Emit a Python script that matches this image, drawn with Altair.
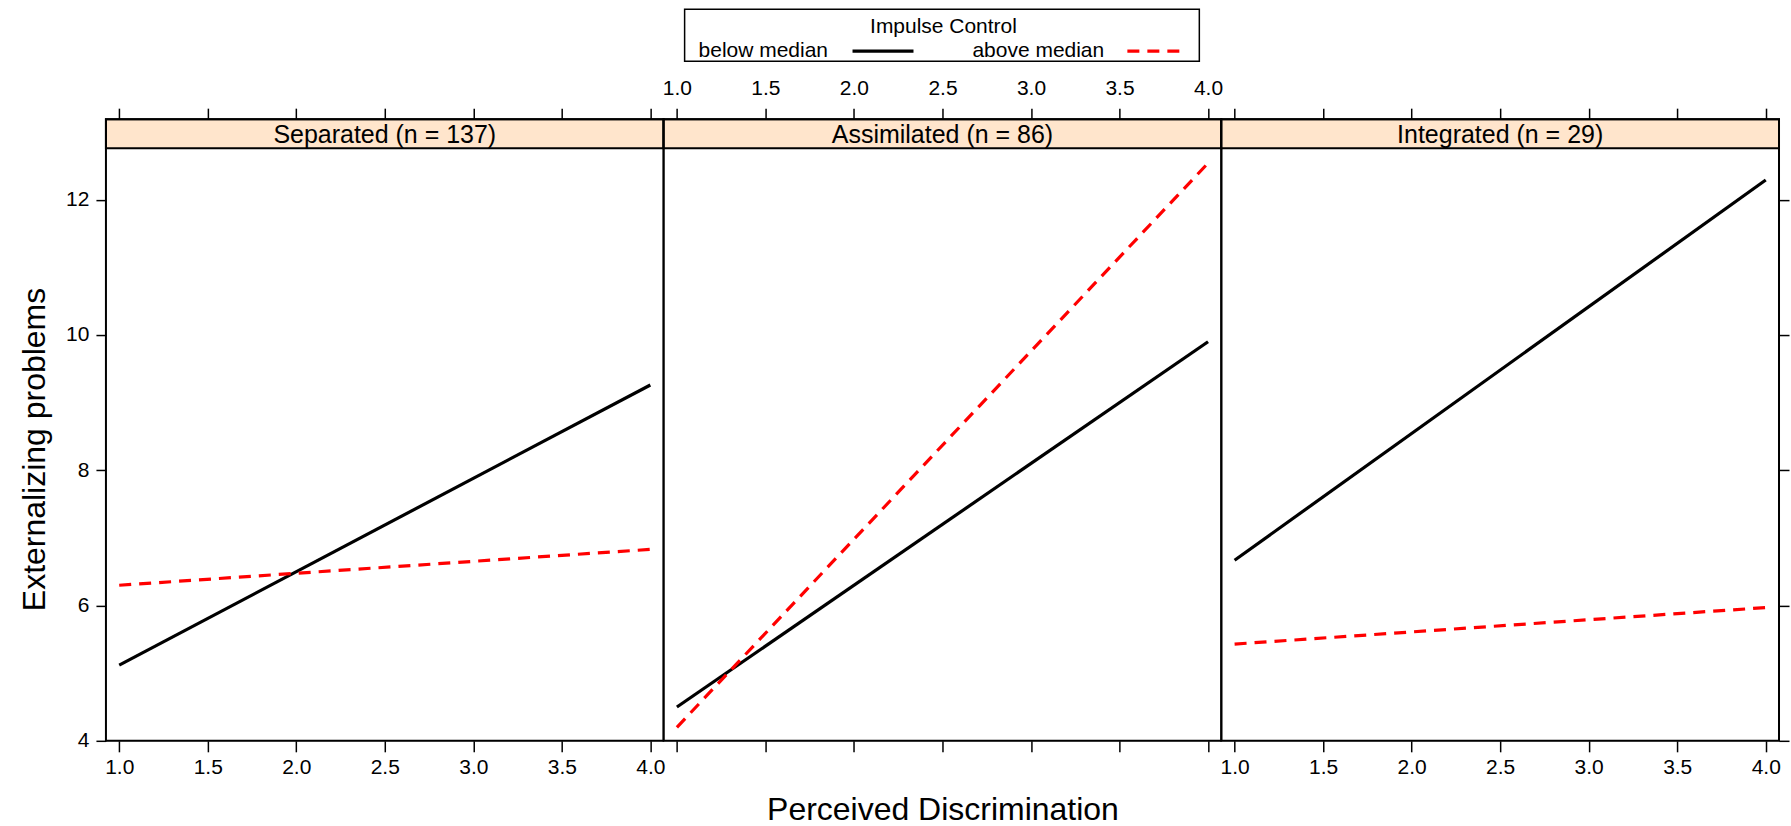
import altair as alt
import pandas as pd

# ---- data ----
panel_names = ["Separated (n = 137)", "Assimilated (n = 86)", "Integrated (n = 29)"]
group_names = ["below median", "above median"]
legend_title = "Impulse Control"
x_title = "Perceived Discrimination"
y_title = "Externalizing problems"

x_points = [1.0, 4.0]
below_start = [5.12, 4.50, 6.67]
below_end = [9.26, 9.90, 12.29]
above_start = [6.30, 4.20, 5.43]
above_end = [6.83, 12.54, 5.97]

x_tick_values = [1.0, 1.5, 2.0, 2.5, 3.0, 3.5, 4.0]
y_tick_values = [4, 6, 8, 10, 12]

rows = []
for i, p in enumerate(panel_names):
    series = [(group_names[0], [below_start[i], below_end[i]]),
              (group_names[1], [above_start[i], above_end[i]])]
    for g, ys in series:
        for xv, yv in zip(x_points, ys):
            rows.append({"panel": p, "group": g, "x": xv, "y": yv})
df = pd.DataFrame(rows)
strip_df = pd.DataFrame({"panel": panel_names})
legend_df = pd.DataFrame({"label": group_names})
legend_title_df = pd.DataFrame({"label": [legend_title]})

# ---- layout / style ----
FONT = "Liberation Sans"
W, H = 558, 622
STRIP_H = 29
x_scale = alt.Scale(domain=[0.925, 4.075], nice=False, zero=False)
y_scale = alt.Scale(domain=[4.0, 13.19], nice=False, zero=False)
TICK = 11
DASH = [12, 8]


def x_axis(orient, labels, title=None, title_padding=0, label_padding=5):
    return alt.Axis(orient=orient, values=x_tick_values, labels=labels, ticks=True,
                    tickSize=TICK, tickColor="black", tickWidth=1.5, domain=False,
                    grid=False, labelFontSize=21, labelFont=FONT, labelColor="black",
                    labelPadding=label_padding, format=".1f", labelFlush=False,
                    labelOverlap=False,
                    title=title, titleFont=FONT, titleFontSize=32, titleFontWeight="normal",
                    titleColor="black", titlePadding=title_padding)


def y_axis(orient, labels, title=None):
    return alt.Axis(orient=orient, values=y_tick_values, labels=labels, ticks=True,
                    tickSize=10, tickColor="black", tickWidth=1.5, domain=False,
                    grid=False, labelFontSize=21, labelFont=FONT, labelColor="black",
                    labelPadding=7, labelFlush=False, labelOverlap=False,
                    title=title, titleFont=FONT, titleFontSize=32, titleFontWeight="normal",
                    titleColor="black", titlePadding=14, titleY=330)


bottom_axes = [x_axis("bottom", True), x_axis("bottom", False, x_title, 42), x_axis("bottom", True)]
top_axes = [x_axis("top", False), x_axis("top", True, label_padding=10), x_axis("top", False)]
left_axes = [y_axis("left", True, y_title), None, None]
right_axes = [None, None, y_axis("right", False)]


def panel(i):
    name = panel_names[i]
    base = alt.Chart(df).transform_filter(alt.datum.panel == name)
    below = base.transform_filter(alt.datum.group == group_names[0]).mark_line(
        color="black", strokeWidth=3.2).encode(
        x=alt.X("x:Q", scale=x_scale, axis=bottom_axes[i]),
        y=alt.Y("y:Q", scale=y_scale, axis=left_axes[i]))
    above = base.transform_filter(alt.datum.group == group_names[1]).mark_line(
        color="#FF0000", strokeWidth=3.2, strokeDash=DASH).encode(
        x=alt.X("x:Q", scale=x_scale, axis=top_axes[i]),
        y=alt.Y("y:Q", scale=y_scale, axis=right_axes[i]))
    sbase = alt.Chart(strip_df).transform_filter(alt.datum.panel == name)
    strip_rect = sbase.mark_rect(fill="#FFE5CC", stroke="black", strokeWidth=2).encode(
        x=alt.value(0), x2=alt.value(W), y=alt.value(0), y2=alt.value(STRIP_H))
    strip_text = sbase.mark_text(font=FONT, fontSize=25, baseline="middle", align="center",
                                 color="black").encode(
        x=alt.value(W / 2), y=alt.value(STRIP_H / 2 + 1), text="panel:N")
    border = sbase.mark_rect(filled=False, color="black", strokeWidth=2).encode(
        x=alt.value(0), x2=alt.value(W), y=alt.value(0), y2=alt.value(H))
    layers = [strip_rect, strip_text, below, above, border]
    if i == 1:
        box = alt.Chart(legend_title_df).mark_rect(fill="white", stroke="black",
                                                   strokeWidth=1.5).encode(
            x=alt.value(21), x2=alt.value(536), y=alt.value(-110), y2=alt.value(-58))
        ltitle = alt.Chart(legend_title_df).mark_text(font=FONT, fontSize=21, align="center",
                                                      baseline="alphabetic", color="black").encode(
            x=alt.value(280), y=alt.value(-86), text="label:N")
        lab0 = alt.Chart(legend_df).transform_filter(alt.datum.label == group_names[0]).mark_text(
            font=FONT, fontSize=21, align="left", baseline="alphabetic", color="black").encode(
            x=alt.value(35), y=alt.value(-62), text="label:N")
        lab1 = alt.Chart(legend_df).transform_filter(alt.datum.label == group_names[1]).mark_text(
            font=FONT, fontSize=21, align="left", baseline="alphabetic", color="black").encode(
            x=alt.value(309), y=alt.value(-62), text="label:N")
        sym0 = alt.Chart(legend_df).transform_filter(alt.datum.label == group_names[0]).mark_rule(
            color="black", strokeWidth=3.2).encode(
            x=alt.value(189), x2=alt.value(250), y=alt.value(-68))
        sym1 = alt.Chart(legend_df).transform_filter(alt.datum.label == group_names[1]).mark_rule(
            color="#FF0000", strokeWidth=3.2, strokeDash=DASH).encode(
            x=alt.value(464), x2=alt.value(516), y=alt.value(-68))
        layers += [box, ltitle, lab0, lab1, sym0, sym1]
    return alt.layer(*layers).resolve_axis(x="independent", y="independent").properties(
        width=W, height=H)


chart = alt.hconcat(panel(0), panel(1), panel(2), spacing=0, bounds="flush").properties(
    padding={"left": 18, "top": 7, "right": 0, "bottom": 0}
).configure_view(stroke="black", strokeWidth=2).configure(font=FONT)

chart.save("out.html", embed_options={"renderer": "svg", "actions": False})
